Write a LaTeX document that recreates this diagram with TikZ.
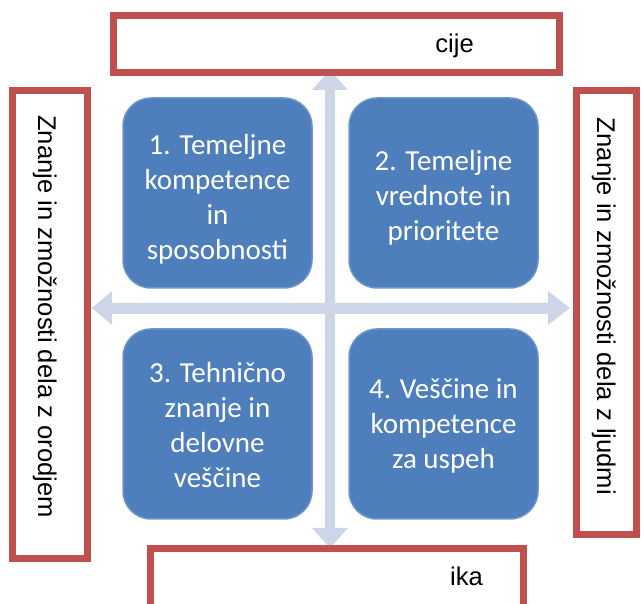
\documentclass[tikz,border=0pt]{standalone}
\usepackage{fontspec}
\setmainfont{Liberation Sans}
\newfontfamily\boxfont{Carlito}
\definecolor{redb}{HTML}{C0504D}
\definecolor{blueb}{HTML}{4E7FBC}
\definecolor{bluebd}{HTML}{6B96CC}
\definecolor{crossc}{HTML}{CDD5E8}
\begin{document}
\begin{tikzpicture}[x=1pt,y=-1pt,
  quad/.style={fill=blueb, draw=bluebd, line width=1.5pt, rounded corners=28pt,
    minimum width=189pt, minimum height=190pt, inner sep=0pt},
  quadtext/.style={text=white, font=\boxfont\fontsize{29}{35}\selectfont, align=center, inner sep=0pt},
  redbox/.style={draw=redb, line width=7pt, fill=white, inner sep=0pt},
  lbltext/.style={font=\fontsize{25.6}{30}\selectfont, text=black, inner sep=0pt}]
\useasboundingbox (0,0) rectangle (641,604);
% cross arrows
\fill[crossc] (330,70) -- (348,90) -- (335,90) -- (335,528) -- (348,528) -- (330,548)
  -- (312,528) -- (325,528) -- (325,90) -- (312,90) -- cycle;
\fill[crossc] (92,308) -- (112,291) -- (112,303) -- (548,303) -- (548,291) -- (570,308)
  -- (548,325) -- (548,314) -- (112,314) -- (112,325) -- cycle;
% quadrants
\node[quad] (q1) at (217.5,193) {};
\node[quad] (q2) at (443.5,193) {};
\node[quad] (q3) at (217.5,424) {};
\node[quad] (q4) at (443.5,424) {};
\node[quadtext] (q1t) at (217.5,199) {1. Temeljne\\kompetence\\in\\sposobnosti};
\node[quadtext] (q2t) at (443.5,198) {2. Temeljne\\vrednote in\\prioritete};
\node[quadtext] (q3t) at (217.5,425) {3. Tehnično\\znanje in\\delovne\\veščine};
\node[quadtext] (q4t) at (443.5,426) {4. Veščine in\\kompetence\\za uspeh};
% red label boxes
\node[redbox, minimum width=446pt, minimum height=57pt] (topbox) at (336.5,44) {};
\node[redbox, minimum width=75pt, minimum height=468pt] (leftbox) at (50,324.5) {};
\node[redbox, minimum width=60pt, minimum height=444pt] (rightbox) at (606.5,312.5) {};
\node[redbox, minimum width=373pt, minimum height=71.5pt] (botbox) at (337,584.25) {};
% label texts
\node[lbltext, anchor=base east] (toptext) at (474,53) {cije};
\node[lbltext, anchor=base east] (bottext) at (483,585) {ika};
\node[lbltext, rotate=-90, anchor=base] (lefttext) at (38,316.5) {Znanje in zmožnosti dela z orodjem};
\node[lbltext, rotate=-90, anchor=base] (righttext) at (597,306.5) {Znanje in zmožnosti dela z ljudmi};
\end{tikzpicture}
\end{document}
